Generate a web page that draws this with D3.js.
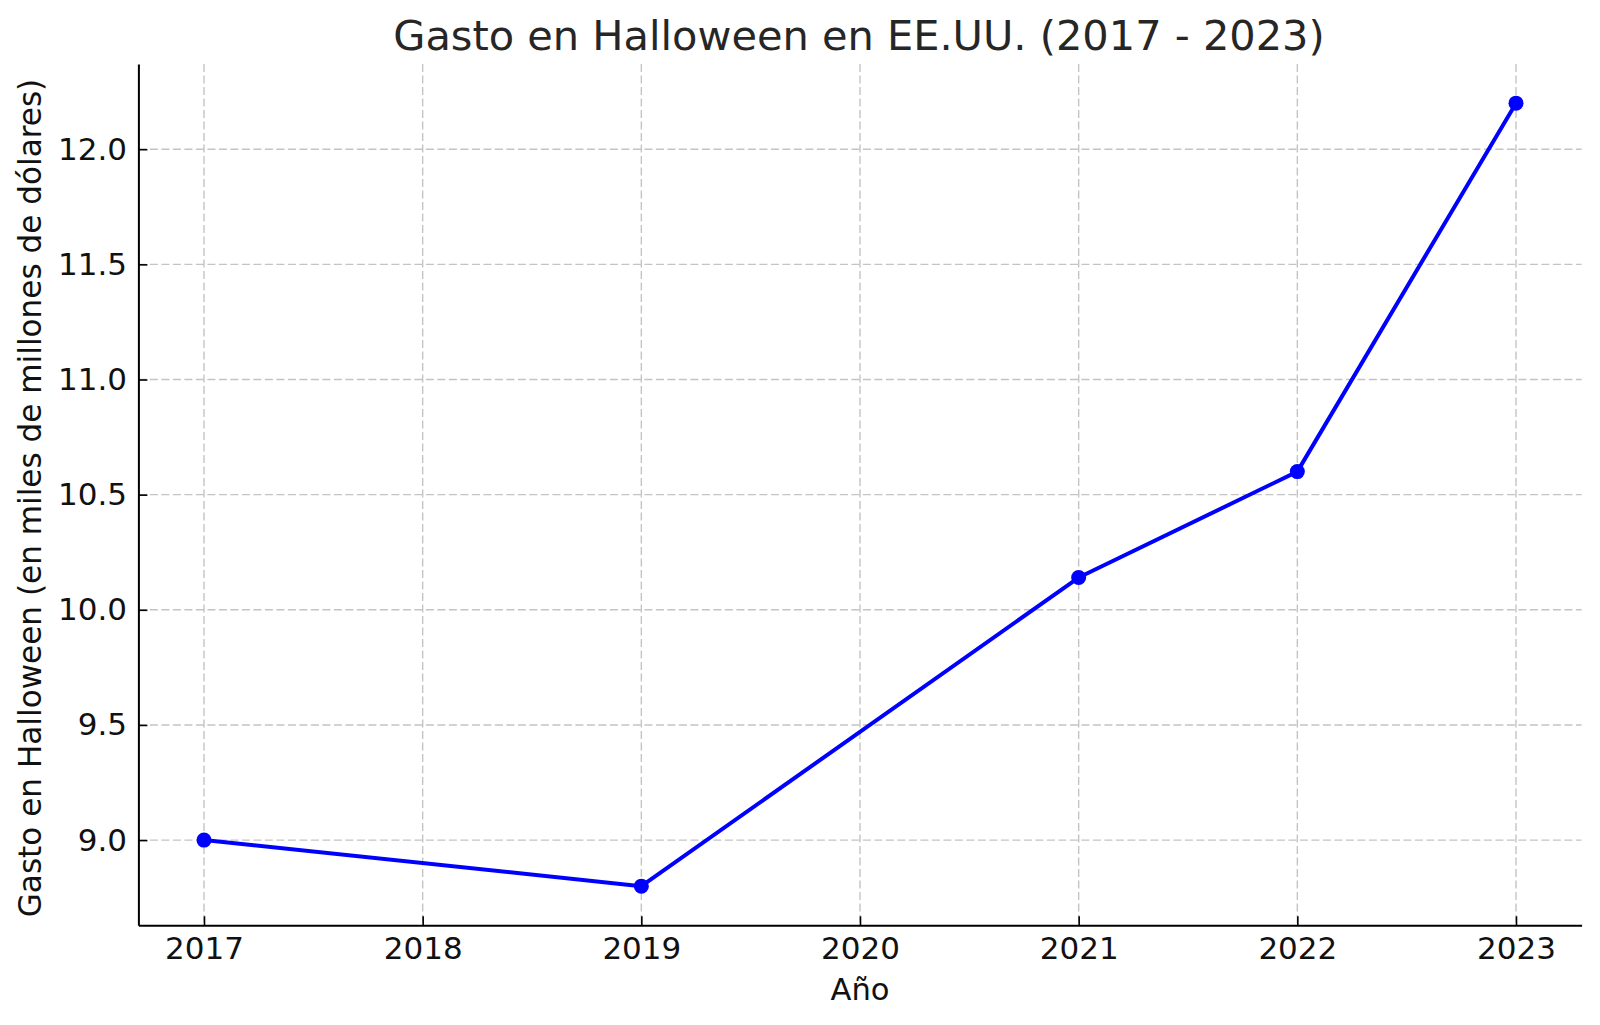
<!DOCTYPE html>
<html>
<head>
<meta charset="utf-8">
<script src="https://cdn.jsdelivr.net/npm/d3@7"></script>
<style>
  html, body { margin: 0; padding: 0; background: #fff; }
  svg { display: block; }
  text { font-family: "DejaVu Sans", sans-serif; }
</style>
</head>
<body>
<svg id="chart" width="1600" height="1025"></svg>
<script>
const years = [2017, 2019, 2021, 2022, 2023];
const spending = [9.0, 8.8, 10.14, 10.6, 12.2];
const xTicks = [2017, 2018, 2019, 2020, 2021, 2022, 2023];
const yTicks = [9.0, 9.5, 10.0, 10.5, 11.0, 11.5, 12.0];
const title = "Gasto en Halloween en EE.UU. (2017 - 2023)";
const xLabel = "Año";
const yLabel = "Gasto en Halloween (en miles de millones de dólares)";

(function () {
const mLeft = 138.4, mRight = 1581.6, mTop = 64, mBottom = 925.3;

const svg = d3.select("#chart");

const xMin = d3.min(years), xMax = d3.max(years);
const xPad = (xMax - xMin) * 0.05;
const yMin = d3.min(spending), yMax = d3.max(spending);
const yPad = (yMax - yMin) * 0.05;

const x = d3.scaleLinear().domain([xMin - xPad, xMax + xPad]).range([mLeft, mRight]);
const y = d3.scaleLinear().domain([yMin - yPad, yMax + yPad]).range([mBottom, mTop]);

// grid
const grid = svg.append("g").attr("stroke", "#c4c4c4").attr("stroke-width", 1.4)
  .attr("stroke-dasharray", "8,3.5");
grid.selectAll("line.gx").data(xTicks).join("line").attr("class", "gx")
  .attr("x1", d => x(d)).attr("x2", d => x(d))
  .attr("y1", mTop).attr("y2", mBottom);
grid.selectAll("line.gy").data(yTicks).join("line").attr("class", "gy")
  .attr("y1", d => y(d)).attr("y2", d => y(d))
  .attr("x1", mLeft).attr("x2", mRight);

// axes
const xAxis = d3.axisBottom(x).tickValues(xTicks).tickFormat(d3.format("d"))
  .tickSizeInner(-9).tickSizeOuter(0).tickPadding(11.7);
const yAxis = d3.axisLeft(y).tickValues(yTicks).tickFormat(d3.format(".1f"))
  .tickSizeInner(-9).tickSizeOuter(0).tickPadding(11.3);

const gx = svg.append("g").attr("transform", `translate(0,${mBottom})`).call(xAxis);
const gy = svg.append("g").attr("transform", `translate(${mLeft},0)`).call(yAxis);
[gx, gy].forEach(g => {
  g.select(".domain").attr("stroke", "#000").attr("stroke-width", 2);
  g.selectAll(".tick line").attr("stroke", "#000").attr("stroke-width", 1.6);
  g.selectAll(".tick text").attr("font-family", "DejaVu Sans").attr("font-size", 31).attr("fill", "#111");
});

// line
const line = d3.line().x((d, i) => x(years[i])).y(d => y(d));
svg.append("path").datum(spending)
  .attr("d", line).attr("fill", "none").attr("stroke", "#0000ff").attr("stroke-width", 4)
  .attr("stroke-linejoin", "round");
svg.selectAll("circle.pt").data(spending).join("circle").attr("class", "pt")
  .attr("cx", (d, i) => x(years[i])).attr("cy", d => y(d)).attr("r", 7.5).attr("fill", "#0000ff");

// texts
svg.append("text").attr("x", 859).attr("y", 50).attr("text-anchor", "middle")
  .attr("font-size", 41.5).attr("fill", "#262626").text(title);
svg.append("text").attr("x", (mLeft + mRight) / 2).attr("y", 1000).attr("text-anchor", "middle")
  .attr("font-size", 30.6).attr("fill", "#111").text(xLabel);
svg.append("text").attr("transform", `translate(41,498) rotate(-90)`)
  .attr("text-anchor", "middle").attr("font-size", 31.1).attr("fill", "#111").text(yLabel);
})();
</script>
</body>
</html>
